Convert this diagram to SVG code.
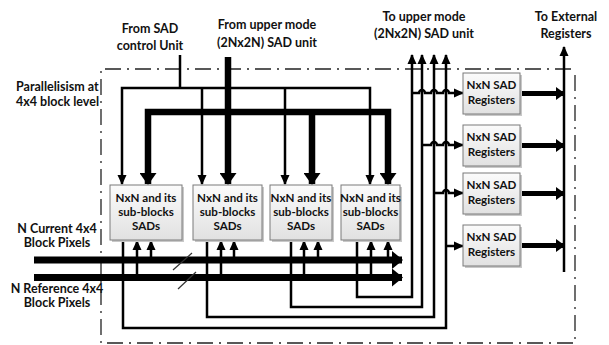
<svg xmlns="http://www.w3.org/2000/svg" width="609" height="345" viewBox="0 0 609 345">
<style>
text{font-family:Lato,"Liberation Sans",sans-serif;font-weight:bold;fill:#111;}
.lbl{font-size:12.5px;}
.bx{font-size:11.6px;text-anchor:middle;}
.c{text-anchor:middle;}
.box{fill:url(#gb);stroke:#7a7a7a;stroke-width:1;}
.sh{fill:#c8c8c8;}
.thin{fill:none;stroke:#000;stroke-width:2.5;}
.thick{fill:none;stroke:#000;stroke-width:6.5;}
.bus{fill:none;stroke:#000;stroke-width:7;}
.reg{fill:none;stroke:#000;stroke-width:5;}
.dash{fill:none;stroke:#222;stroke-width:1.3;stroke-dasharray:16 6 2 6;}
.slash{fill:none;stroke:#333;stroke-width:1.2;}
</style>
<defs>
<linearGradient id="gb" x1="0" y1="0" x2="0" y2="1">
<stop offset="0" stop-color="#fbfbfb"/>
<stop offset="1" stop-color="#e1e1e1"/>
</linearGradient>
<marker id="ah" markerUnits="userSpaceOnUse" markerWidth="10" markerHeight="10" viewBox="0 0 10 10" refX="9" refY="5" orient="auto-start-reverse">
<path d="M0,0.5 L10,5 L0,9.5 z" fill="#000"/>
</marker>
<marker id="aht" markerUnits="userSpaceOnUse" markerWidth="12" markerHeight="17" viewBox="0 0 12 17" refX="11" refY="8.5" orient="auto-start-reverse">
<path d="M0,0 L12,8.5 L0,17 z" fill="#000"/>
</marker>
<marker id="ahb" markerUnits="userSpaceOnUse" markerWidth="11" markerHeight="18" viewBox="0 0 11 18" refX="10" refY="9" orient="auto">
<path d="M0,0 L11,9 L0,18 z" fill="#000"/>
</marker>
<marker id="ahr" markerUnits="userSpaceOnUse" markerWidth="9" markerHeight="13" viewBox="0 0 9 13" refX="8" refY="6.5" orient="auto">
<path d="M0,0 L9,6.5 L0,13 z" fill="#000"/>
</marker>
</defs>

<rect width="609" height="345" fill="#fff"/>

<g id="boundary">
<path class="dash" d="M575,75 V343 H101 V69 H573"/>
</g>

<g id="labels">
<text class="lbl c" x="150" y="33">From SAD</text>
<text class="lbl c" x="150" y="50">control Unit</text>
<text class="lbl c" x="267" y="29">From upper mode</text>
<text class="lbl c" x="267" y="47">(2Nx2N) SAD unit</text>
<text class="lbl c" x="424" y="21">To upper mode</text>
<text class="lbl c" x="424" y="38">(2Nx2N) SAD unit</text>
<text class="lbl c" x="566" y="21">To External</text>
<text class="lbl c" x="566" y="38">Registers</text>
<text class="lbl" x="16" y="91">Parallelisism at</text>
<text class="lbl" x="16" y="106">4x4 block level</text>
<text class="lbl c" x="57" y="233">N Current 4x4</text>
<text class="lbl c" x="57" y="247">Block Pixels</text>
<text class="lbl c" x="57" y="293">N Reference 4x4</text>
<text class="lbl c" x="57" y="307">Block Pixels</text>
</g>

<g id="connectors">
<path class="thin" d="M180,55 V88"/>
<path class="thin" d="M122,184 V88 H370 V184" marker-start="url(#ah)" marker-end="url(#ah)"/>
<path class="thin" d="M202,88 V184" marker-end="url(#ah)"/>
<path class="thin" d="M285,88 V184" marker-end="url(#ah)"/>
<path class="thick" d="M228,57 V112"/>
<path class="thick" d="M148,184 V112 H388 V184" marker-start="url(#aht)" marker-end="url(#aht)"/>
<path class="thick" d="M228,112 V184" marker-end="url(#aht)"/>
<path class="thick" d="M312,112 V184" marker-end="url(#aht)"/>
<path class="bus" d="M34,260 H402" marker-end="url(#ahb)"/>
<path class="bus" d="M34,277.5 H402" marker-end="url(#ahb)"/>
<path class="slash" d="M173,270 L192,253"/>
<path class="slash" d="M178,289 L196,272"/>
<path class="thin" d="M137,278 V241" marker-end="url(#ah)"/>
<path class="thin" d="M151,260 V241" marker-end="url(#ah)"/>
<path class="thin" d="M221,278 V241" marker-end="url(#ah)"/>
<path class="thin" d="M234,260 V241" marker-end="url(#ah)"/>
<path class="thin" d="M304,278 V241" marker-end="url(#ah)"/>
<path class="thin" d="M318,260 V241" marker-end="url(#ah)"/>
<path class="thin" d="M371,278 V241" marker-end="url(#ah)"/>
<path class="thin" d="M388,260 V241" marker-end="url(#ah)"/>
<path class="thin" d="M357,240 V297 H412 V55" marker-end="url(#ah)"/>
<path class="thin" d="M291,240 V307 H422 V55" marker-end="url(#ah)"/>
<path class="thin" d="M207,240 V317 H434 V55" marker-end="url(#ah)"/>
<path class="thin" d="M123,240 V328 H446 V55" marker-end="url(#ah)"/>
<path class="thin" d="M412,93 H419 a3,3 0 0 1 6,0 H431 a3,3 0 0 1 6,0 H443 a3,3 0 0 1 6,0 H463" marker-end="url(#ah)"/>
<path class="thin" d="M422,145 H431 a3,3 0 0 1 6,0 H443 a3,3 0 0 1 6,0 H463" marker-end="url(#ah)"/>
<path class="thin" d="M434,193 H443 a3,3 0 0 1 6,0 H463" marker-end="url(#ah)"/>
<path class="thin" d="M446,246 H463" marker-end="url(#ah)"/>
<path class="reg" d="M520,93.5 H564" marker-end="url(#ahr)"/>
<path class="reg" d="M520,145.5 H564" marker-end="url(#ahr)"/>
<path class="reg" d="M520,193.5 H564" marker-end="url(#ahr)"/>
<path class="reg" d="M520,245.5 H564" marker-end="url(#ahr)"/>
<path class="thin" d="M564,272 V47" marker-end="url(#ah)"/>
</g>

<g id="sad1">
<rect class="sh" x="112" y="187" width="72" height="55"/>
<rect class="box" x="110" y="185" width="72" height="55"/>
<text class="bx" x="146" y="202">NxN and its</text>
<text class="bx" x="146" y="216">sub-blocks</text>
<text class="bx" x="146" y="230">SADs</text>
</g>
<g id="sad2">
<rect class="sh" x="195" y="187" width="69" height="55"/>
<rect class="box" x="193" y="185" width="69" height="55"/>
<text class="bx" x="227.5" y="202">NxN and its</text>
<text class="bx" x="227.5" y="216">sub-blocks</text>
<text class="bx" x="227.5" y="230">SADs</text>
</g>
<g id="sad3">
<rect class="sh" x="272" y="187" width="62" height="55"/>
<rect class="box" x="270" y="185" width="62" height="55"/>
<text class="bx" x="301" y="202">NxN and its</text>
<text class="bx" x="301" y="216">sub-blocks</text>
<text class="bx" x="301" y="230">SADs</text>
</g>
<g id="sad4">
<rect class="sh" x="343" y="187" width="59" height="55"/>
<rect class="box" x="341" y="185" width="59" height="55"/>
<text class="bx" x="370.5" y="202">NxN and its</text>
<text class="bx" x="370.5" y="216">sub-blocks</text>
<text class="bx" x="370.5" y="230">SADs</text>
</g>

<g id="reg1">
<rect class="sh" x="465" y="75" width="57" height="41"/>
<rect class="box" x="463" y="73" width="57" height="41"/>
<text class="bx" x="491.5" y="89">NxN SAD</text>
<text class="bx" x="491.5" y="104">Registers</text>
</g>
<g id="reg2">
<rect class="sh" x="465" y="127" width="57" height="41"/>
<rect class="box" x="463" y="125" width="57" height="41"/>
<text class="bx" x="491.5" y="141">NxN SAD</text>
<text class="bx" x="491.5" y="156">Registers</text>
</g>
<g id="reg3">
<rect class="sh" x="465" y="175" width="57" height="41"/>
<rect class="box" x="463" y="173" width="57" height="41"/>
<text class="bx" x="491.5" y="189">NxN SAD</text>
<text class="bx" x="491.5" y="204">Registers</text>
</g>
<g id="reg4">
<rect class="sh" x="465" y="227" width="57" height="41"/>
<rect class="box" x="463" y="225" width="57" height="41"/>
<text class="bx" x="491.5" y="241">NxN SAD</text>
<text class="bx" x="491.5" y="256">Registers</text>
</g>
</svg>
